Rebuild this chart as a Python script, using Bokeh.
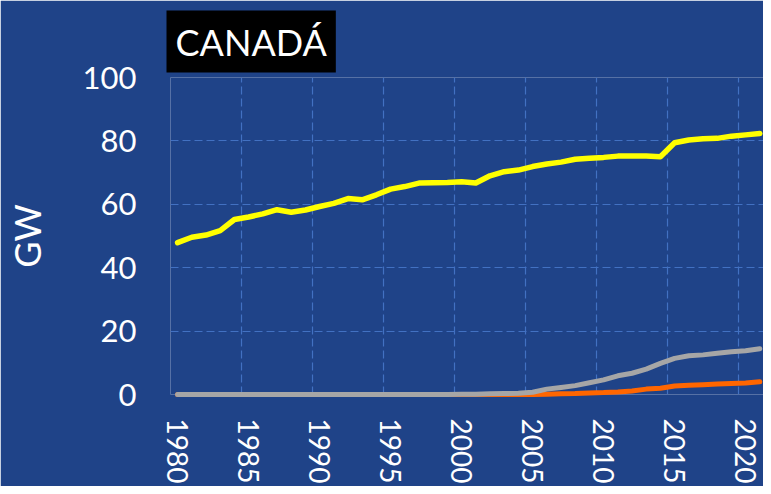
from bokeh.plotting import figure
from bokeh.models import Range1d, FixedTicker
from bokeh.embed import file_html
from bokeh.resources import INLINE

# ---- data ----
years = list(range(1980, 2022))
hidro = [47.9, 49.6, 50.3, 51.7, 55.2, 56.0, 57.0, 58.3, 57.5, 58.2,
         59.3, 60.3, 61.8, 61.4, 63.0, 64.8, 65.6, 66.7, 66.8, 66.9,
         67.1, 66.7, 69.0, 70.3, 70.8, 71.9, 72.7, 73.3, 74.2, 74.5,
         74.8, 75.2, 75.2, 75.2, 75.0, 79.4, 80.3, 80.7, 80.8, 81.5,
         81.9, 82.3]
eolica = [0.0, 0.0, 0.0, 0.0, 0.0, 0.0, 0.0, 0.0, 0.0, 0.0,
          0.0, 0.0, 0.0, 0.0, 0.0, 0.0, 0.0, 0.0, 0.0, 0.0,
          0.1, 0.1, 0.2, 0.3, 0.4, 0.7, 1.7, 2.2, 2.8, 3.7,
          4.6, 5.9, 6.7, 8.0, 9.8, 11.4, 12.2, 12.5, 13.0, 13.5,
          13.8, 14.4]
solar = [0.0, 0.0, 0.0, 0.0, 0.0, 0.0, 0.0, 0.0, 0.0, 0.0,
         0.0, 0.0, 0.0, 0.0, 0.0, 0.0, 0.0, 0.0, 0.0, 0.0,
         0.0, 0.0, 0.0, 0.0, 0.0, 0.0, 0.1, 0.2, 0.3, 0.5,
         0.6, 0.8, 1.1, 1.7, 2.0, 2.7, 2.9, 3.1, 3.3, 3.5,
         3.6, 4.0]
x_ticks = [1980, 1985, 1990, 1995, 2000, 2005, 2010, 2015, 2020]
x_grid = [1979.5, 1984.5, 1989.5, 1994.5, 1999.5, 2004.5, 2009.5, 2014.5, 2019.5]
y_ticks = [0, 20, 40, 60, 80, 100]
title_text = "CANADÁ"
y_label = "GW"

BG = "#1F4388"
GRID = "#4271C2"
FONT = "Lato"

p = figure(width=763, height=486, output_backend="svg", toolbar_location=None,
           x_range=Range1d(1979.5, 2021.26), y_range=Range1d(0, 100),
           min_border_left=170, min_border_right=0, min_border_top=77,
           min_border_bottom=90)
p.background_fill_color = BG
p.border_fill_color = BG
p.outline_line_color = None

# title
p.title.text = title_text
p.title.text_font = FONT
p.title.text_font_size = "36px"
p.title.text_font_style = "normal"
p.title.text_color = "white"
p.title.background_fill_color = "black"
p.title.align = "left"
p.title.padding = (9, 9, 9, 9)
p.title.offset = -4
p.title.standoff = 10

# grids
p.xgrid.ticker = FixedTicker(ticks=x_grid)
p.ygrid.ticker = FixedTicker(ticks=y_ticks)
for g in (p.xgrid, p.ygrid):
    g.grid_line_color = GRID
    g.grid_line_dash = "8 4"
    g.grid_line_width = 1.2

# axes
p.xaxis.ticker = FixedTicker(ticks=x_ticks)
p.yaxis.ticker = FixedTicker(ticks=y_ticks)
for ax in (p.xaxis, p.yaxis):
    ax.axis_line_color = None
    ax.major_tick_line_color = None
    ax.minor_tick_line_color = None
    ax.major_tick_out = 0
    ax.major_tick_in = 0
    ax.major_label_text_color = "white"
    ax.major_label_text_font = FONT
p.xaxis.major_label_orientation = "vertical"
p.xaxis.major_label_text_font_size = "28px"
p.xaxis.major_label_standoff = 24
p.xaxis.axis_label_standoff = 0
p.yaxis.major_label_text_font_size = "31px"
p.yaxis.major_label_standoff = 34
p.yaxis.axis_label = y_label
p.yaxis.axis_label_text_font = FONT
p.yaxis.axis_label_text_font_size = "36px"
p.yaxis.axis_label_text_font_style = "normal"
p.yaxis.axis_label_text_color = "white"
p.yaxis.axis_label_standoff = 31

# series
p.line(years, hidro, line_color="#FFFF00", line_width=5.5, line_cap="round",
       line_join="round", level="overlay")
p.line(years, solar, line_color="#FF6600", line_width=5, line_cap="round",
       line_join="round", level="overlay")
p.line(years, eolica, line_color="#A6A6A6", line_width=5, line_cap="round",
       line_join="round", level="overlay")

open("out.html", "w").write(file_html(p, INLINE))
